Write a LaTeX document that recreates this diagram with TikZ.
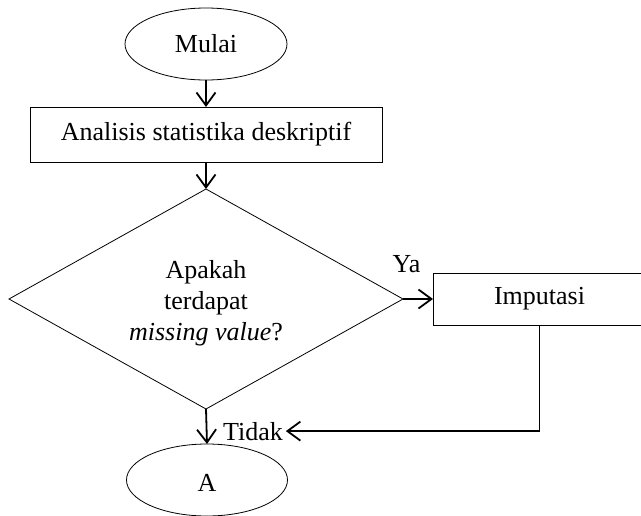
\documentclass[tikz,border=0pt]{standalone}
\usepackage{fontspec}
\setmainfont{Liberation Serif}
\usetikzlibrary{shapes.geometric,arrows.meta}
\begin{document}
\begin{tikzpicture}[x=1pt,y=-1pt,
  every node/.style={font=\fontsize{26}{31}\selectfont, inner sep=0pt, outer sep=0pt},
  terminal/.style={draw, ellipse, line width=0.8pt},
  process/.style={draw, rectangle, line width=0.8pt},
  decision/.style={draw, diamond, aspect=1.79, line width=0.8pt, align=center},
  flow/.style={line width=1.8pt, -{Straight Barb[length=13pt,width=19pt]}},
  tag/.style={anchor=base, inner xsep=3pt}
]
\useasboundingbox (0,0) rectangle (641,515);

% flowchart blocks
\node[terminal, minimum width=162pt, minimum height=72pt] (mulai) at (206,44) {Mulai};
\node[process, minimum width=352pt, minimum height=55pt] (stat) at (206,134.5) {Analisis statistika deskriptif};
\node[decision, minimum width=394pt, minimum height=220pt] (cek) at (206,299)
  {\rule{0pt}{25.8pt}Apakah\\terdapat\\\textit{missing value}?};
\node[process, minimum width=213pt, minimum height=52pt] (imput) at (539.5,299) {Imputasi};
\node[terminal, minimum width=161pt, minimum height=72pt, text height=23pt] (akhir) at (207,480) {A};

% branch labels
\node[tag] (ya) at (406.5,272) {Ya};
\node[tag] (tidak) at (253,440) {Tidak};

% connectors
\draw[flow] (mulai.south) -- (stat.north);
\draw[flow] (stat.south) -- (cek.north);
\draw[flow] (cek.east) -- (imput.west);
\draw[flow] (cek.south) -- (akhir.north);
\draw[flow] (imput.south) |- (tidak.east);
\end{tikzpicture}
\end{document}
